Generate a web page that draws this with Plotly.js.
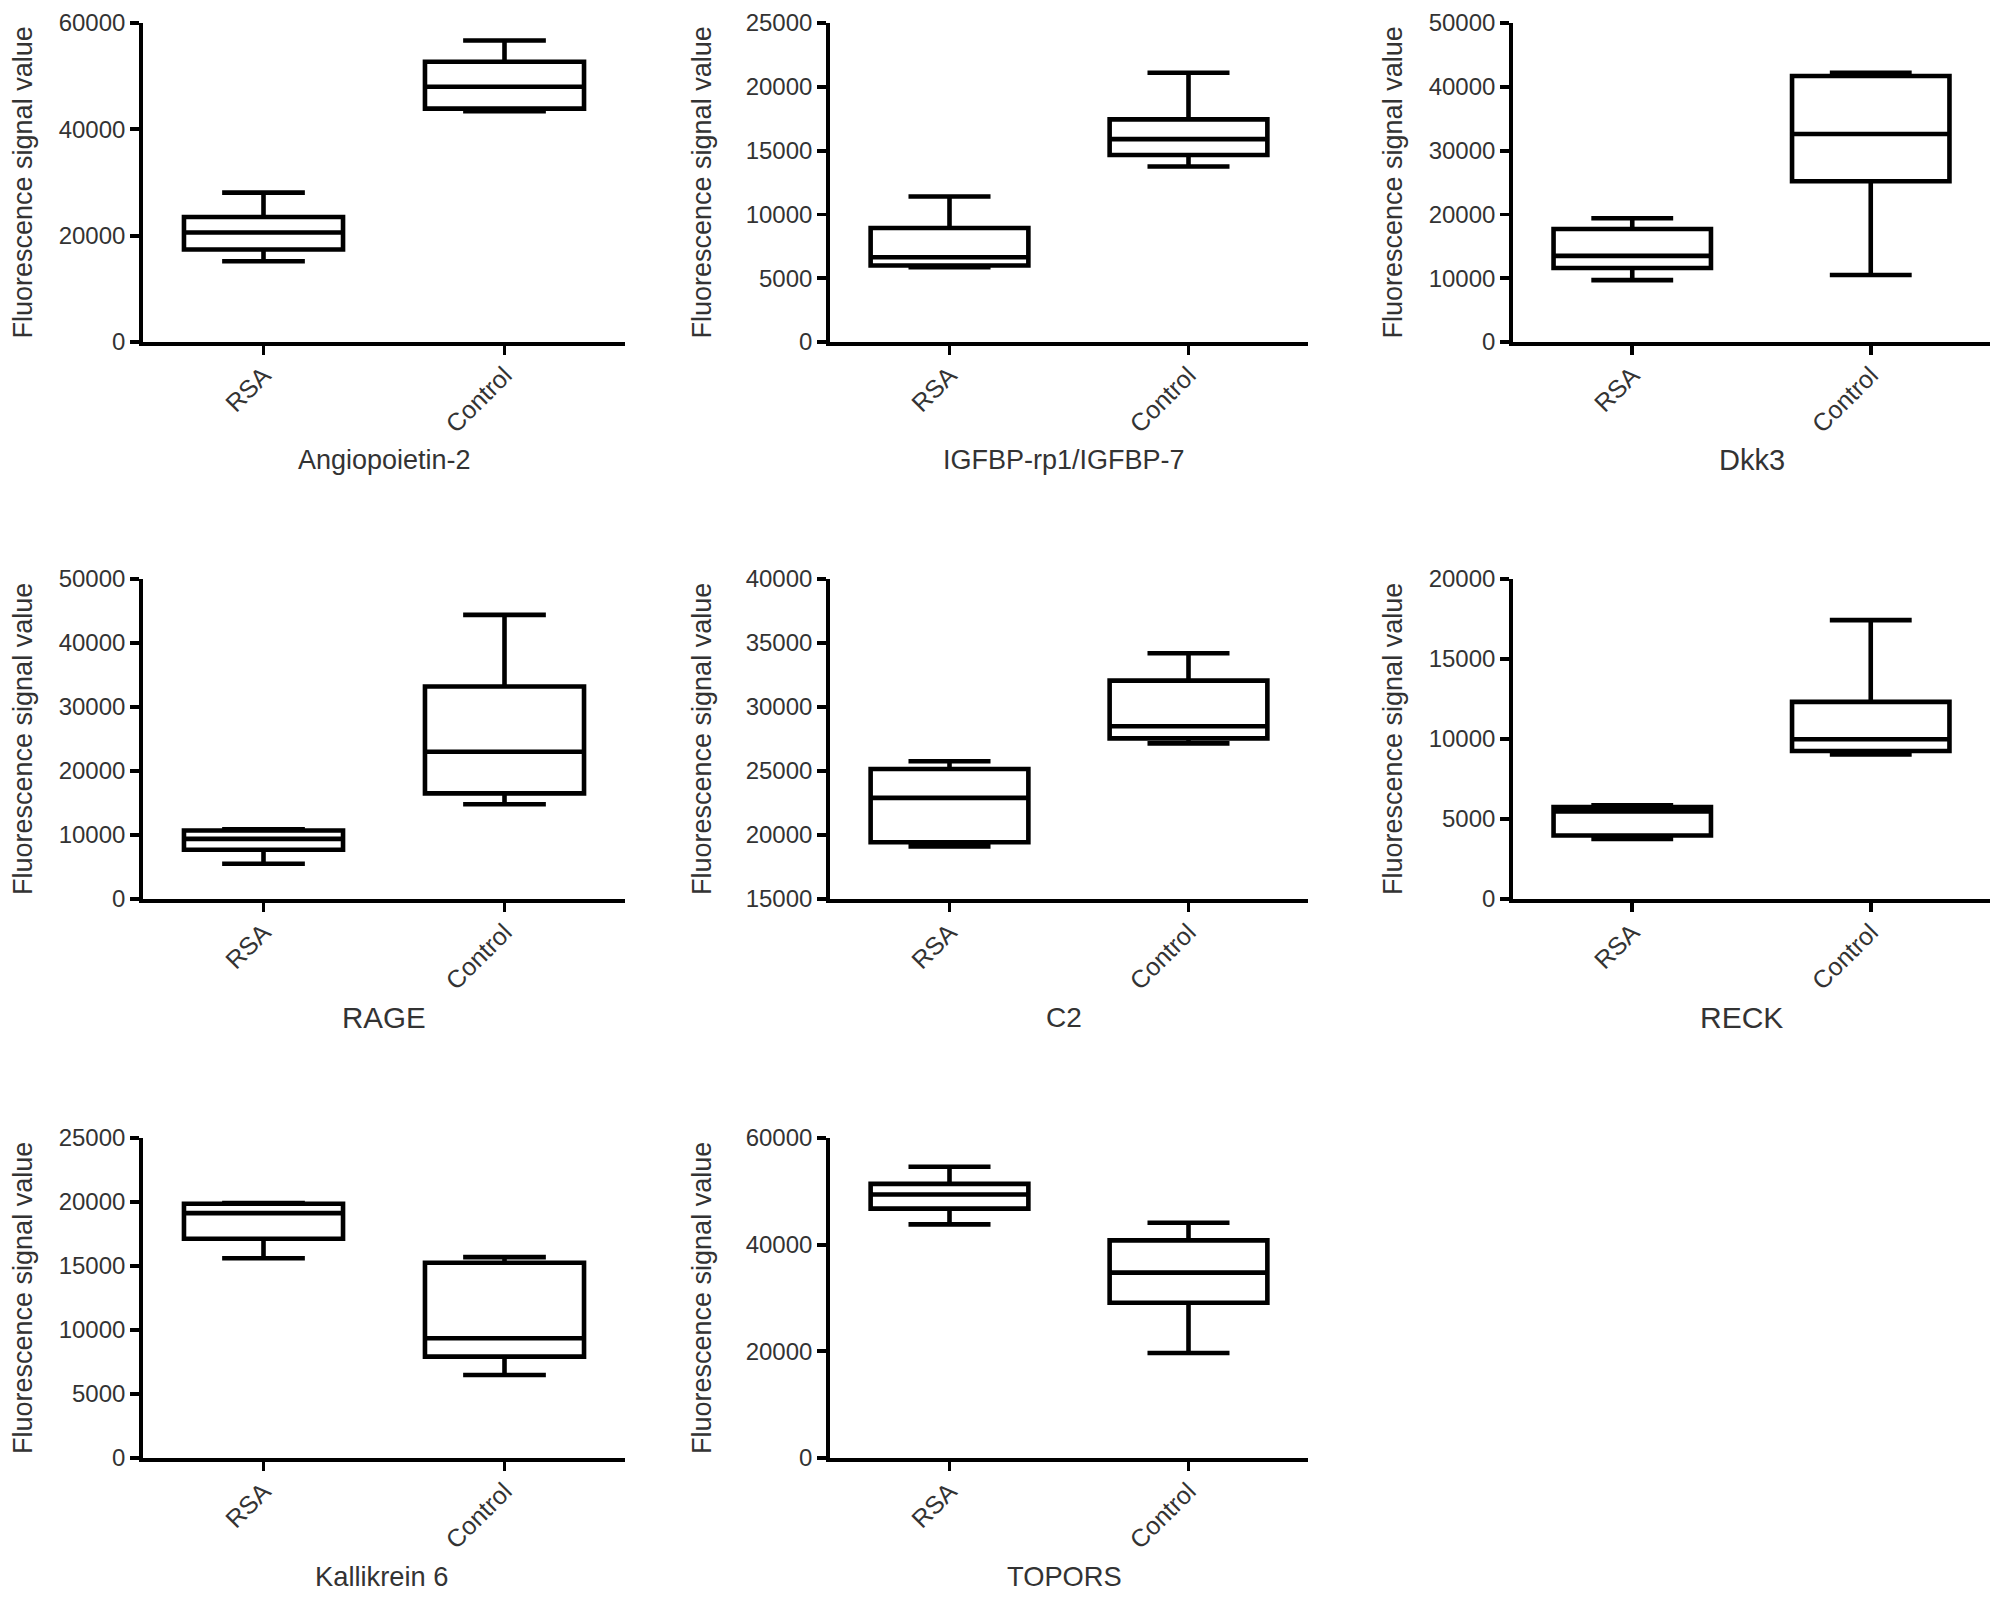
<!DOCTYPE html>
<html>
<head>
<meta charset="utf-8">
<script src="https://cdn.plot.ly/plotly-3.0.1.min.js"></script>
<style>
  html, body { margin: 0; padding: 0; background: #ffffff; }
  #chart { width: 2008px; height: 1600px; }
</style>
</head>
<body>
<div id="chart"></div>
<script>
// ---- Data ----
const categories = ['RSA', 'Control'];
const panelTitles = ['Angiopoietin-2', 'IGFBP-rp1/IGFBP-7', 'Dkk3', 'RAGE', 'C2', 'RECK', 'Kallikrein 6', 'TOPORS'];
const yAxisTitle = 'Fluorescence signal value';

// Each group: [lower whisker, Q1, median, Q3, upper whisker]
const angiopoietin2_RSA     = [15200, 17400, 20600, 23500, 28100];
const angiopoietin2_Control = [43400, 43900, 48000, 52700, 56700];
const igfbp7_RSA            = [5860, 6000, 6640, 8930, 11400];
const igfbp7_Control        = [13750, 14660, 15900, 17450, 21100];
const dkk3_RSA              = [9700, 11600, 13500, 17700, 19400];
const dkk3_Control          = [10500, 25200, 32600, 41700, 42200];
const rage_RSA              = [5500, 7700, 9400, 10700, 10900];
const rage_Control          = [14800, 16500, 23000, 33200, 44400];
const c2_RSA                = [19100, 19430, 22900, 25160, 25760];
const c2_Control            = [27160, 27550, 28500, 32060, 34200];
const reck_RSA              = [3760, 3970, 5470, 5740, 5850];
const reck_Control          = [9040, 9250, 9980, 12320, 17430];
const kallikrein6_RSA       = [15600, 17130, 19130, 19860, 19920];
const kallikrein6_Control   = [6490, 7920, 9360, 15250, 15690];
const topors_RSA            = [43800, 46750, 49400, 51400, 54600];
const topors_Control        = [19700, 29100, 34750, 40800, 44100];

// Y axis ranges and tick steps as printed
const yMin  = [0, 0, 0, 0, 15000, 0, 0, 0];
const yMax  = [60000, 25000, 50000, 50000, 40000, 20000, 25000, 60000];
const yStep = [20000, 5000, 10000, 10000, 5000, 5000, 5000, 20000];

const groups = [
  [angiopoietin2_RSA, angiopoietin2_Control],
  [igfbp7_RSA, igfbp7_Control],
  [dkk3_RSA, dkk3_Control],
  [rage_RSA, rage_Control],
  [c2_RSA, c2_Control],
  [reck_RSA, reck_Control],
  [kallikrein6_RSA, kallikrein6_Control],
  [topors_RSA, topors_Control]
];

// ---- Layout / style (pixels in a 2008 x 1600 canvas) ----
const W = 2008, H = 1600;
const colX = [[143, 625], [830, 1308], [1513, 1990]];
const rowY = [[23, 342], [579, 899], [1138, 1458]];
const yTitleOffset = [120, 128, 120];
const titleSizes = [27, 27, 29, 29.5, 28, 30, 27.3, 27.3];
const titleDx = [0, -5, 0, 0, -5, -10, -2, -5];

const textColor = '#333333';
const fontFamily = '"Liberation Sans", Arial, Helvetica, sans-serif';

const data = [];
const layout = {
  width: W, height: H,
  margin: {l: 0, r: 0, t: 0, b: 0},
  paper_bgcolor: '#ffffff',
  plot_bgcolor: 'rgba(0,0,0,0)',
  showlegend: false,
  font: {family: fontFamily, color: textColor},
  annotations: []
};

groups.forEach((g, i) => {
  const row = Math.floor(i / 3), col = i % 3;
  const n = i + 1;
  const xa = n === 1 ? 'x' : 'x' + n;
  const ya = n === 1 ? 'y' : 'y' + n;
  const xk = n === 1 ? 'xaxis' : 'xaxis' + n;
  const yk = n === 1 ? 'yaxis' : 'yaxis' + n;

  data.push({
    type: 'box',
    x: categories,
    lowerfence: g.map(v => v[0]),
    q1: g.map(v => v[1]),
    median: g.map(v => v[2]),
    q3: g.map(v => v[3]),
    upperfence: g.map(v => v[4]),
    xaxis: xa, yaxis: ya,
    width: 0.66,
    whiskerwidth: 0.52,
    boxpoints: false,
    fillcolor: 'rgba(255,255,255,0)',
    line: {color: '#000000', width: 4.6},
    hoverinfo: 'skip'
  });

  const [x0, x1] = colX[col];
  const [yt, yb] = rowY[row];

  layout[xk] = {
    domain: [x0 / W, x1 / W],
    anchor: ya,
    type: 'category',
    categoryorder: 'array',
    categoryarray: categories,
    range: [-0.5, 1.5],
    showline: true, linecolor: '#000000', linewidth: 3.8,
    showgrid: false, zeroline: false,
    ticks: 'outside', ticklen: 9, tickwidth: 3.8, tickcolor: '#000000',
    tickangle: -45,
    ticklabelstandoff: -4,
    tickfont: {size: 25, color: textColor, family: fontFamily},
    fixedrange: true
  };
  layout[yk] = {
    domain: [1 - yb / H, 1 - yt / H],
    anchor: xa,
    range: [yMin[i], yMax[i]],
    dtick: yStep[i],
    tick0: yMin[i],
    tickformat: 'd',
    showline: true, linecolor: '#000000', linewidth: 3.8,
    showgrid: false, zeroline: false,
    ticks: 'outside', ticklen: 9, tickwidth: 3.8, tickcolor: '#000000',
    tickfont: {size: 24, color: textColor, family: fontFamily},
    fixedrange: true
  };

  // x title (gene name) below the category labels
  layout.annotations.push({
    xref: 'paper', yref: 'paper',
    x: ((x0 + x1) / 2 + titleDx[i]) / W,
    y: 1 - (yb + 118) / H,
    text: panelTitles[i],
    showarrow: false,
    xanchor: 'center', yanchor: 'middle',
    font: {size: titleSizes[i], color: textColor, family: fontFamily}
  });
  // y title
  layout.annotations.push({
    xref: 'paper', yref: 'paper',
    x: (x0 - yTitleOffset[col]) / W,
    y: 1 - ((yt + yb) / 2) / H,
    text: yAxisTitle,
    textangle: -90,
    showarrow: false,
    xanchor: 'center', yanchor: 'middle',
    font: {size: 27, color: textColor, family: fontFamily}
  });
});

Plotly.newPlot('chart', data, layout, {displayModeBar: false, staticPlot: true});
</script>
</body>
</html>
